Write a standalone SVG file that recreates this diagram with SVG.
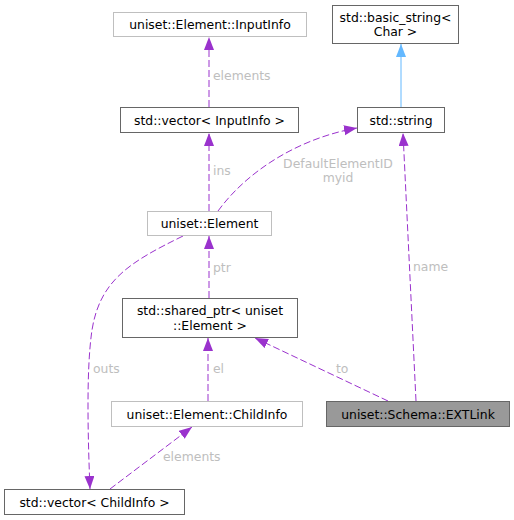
<svg xmlns="http://www.w3.org/2000/svg" width="514" height="520" viewBox="0 0 514 520">
<style>
text{font-family:"DejaVu Sans","Liberation Sans",sans-serif;font-size:12.4px}
.n{fill:#000;text-anchor:middle}
.lbl{fill:#bebebe}
.bx{fill:#fff;stroke:#666}
.bl{fill:#fff;stroke:#bfbfbf}
.e{fill:none;stroke:#9a32cd;stroke-dasharray:7,3;marker-end:url(#ap)}
.inh{fill:none;stroke:#63b8ff;marker-end:url(#ab)}
</style>
<defs>
<marker id="ap" markerUnits="userSpaceOnUse" markerWidth="14" markerHeight="12" refX="13" refY="5" orient="auto"><path d="M0,0 L13,5 L0,10 z" fill="#9a32cd"/></marker>
<marker id="ab" markerUnits="userSpaceOnUse" markerWidth="14" markerHeight="12" refX="13" refY="5" orient="auto"><path d="M0,0 L13,5 L0,10 z" fill="#63b8ff"/></marker>
</defs>
<rect width="514" height="520" fill="#fff"/>
<g id="edges">
<path class="e" d="M209,107 L209,37"/>
<text class="lbl" x="213" y="80">elements</text>
<path class="inh" d="M401,107 L401,44"/>
<path class="e" d="M209,211 L209,133"/>
<text class="lbl" x="213" y="175">ins</text>
<path class="e" d="M218,211 C248,170 300,138 357,128"/>
<text class="lbl" x="338" y="168" text-anchor="middle">DefaultElementID</text>
<text class="lbl" x="338" y="182" text-anchor="middle">myid</text>
<path class="e" d="M183,236 C130,262 100,280 92,330 C86,370 88,440 90,489"/>
<text class="lbl" x="93" y="373">outs</text>
<path class="e" d="M209,298 L209,236"/>
<text class="lbl" x="213" y="272">ptr</text>
<path class="e" d="M208,401 L208,338"/>
<text class="lbl" x="213" y="373">el</text>
<path class="e" d="M110,489 L192,427"/>
<text class="lbl" x="163" y="461">elements</text>
<path class="e" d="M388,401 L255,338"/>
<text class="lbl" x="336" y="373">to</text>
<path class="e" d="M416,401 L403,133"/>
<text class="lbl" x="413" y="271">name</text>
</g>
<g id="inputinfo"><rect class="bl" x="113.5" y="12.5" width="193" height="24"/><text class="n" x="210" y="29">uniset::Element::InputInfo</text></g>
<g id="vecinput"><rect class="bx" x="120.5" y="107.5" width="178" height="25"/><text class="n" x="209.5" y="124.5">std::vector&lt; InputInfo &gt;</text></g>
<g id="basicstring"><rect class="bx" x="332.5" y="5.5" width="126" height="38"/><text class="n" x="395.5" y="21.5">std::basic_string&lt;</text><text class="n" x="395.5" y="36">Char &gt;</text></g>
<g id="string"><rect class="bx" x="357.5" y="107.5" width="87" height="25"/><text class="n" x="401" y="124.5">std::string</text></g>
<g id="element"><rect class="bl" x="147.5" y="211.5" width="124" height="24"/><text class="n" x="209.5" y="228">uniset::Element</text></g>
<g id="sharedptr"><rect class="bx" x="122.5" y="298.5" width="175" height="39"/><text class="n" x="210" y="315">std::shared_ptr&lt; uniset</text><text class="n" x="210" y="329.5">::Element &gt;</text></g>
<g id="childinfo"><rect class="bl" x="111.5" y="401.5" width="191" height="25"/><text class="n" x="207" y="418.5">uniset::Element::ChildInfo</text></g>
<g id="extlink"><rect x="326.5" y="401.5" width="183" height="25" fill="#999" stroke="#666"/><text class="n" x="418" y="418.5">uniset::Schema::EXTLink</text></g>
<g id="vecchild"><rect class="bx" x="4.5" y="489.5" width="180" height="25"/><text class="n" x="94.5" y="506.5">std::vector&lt; ChildInfo &gt;</text></g>
</svg>
